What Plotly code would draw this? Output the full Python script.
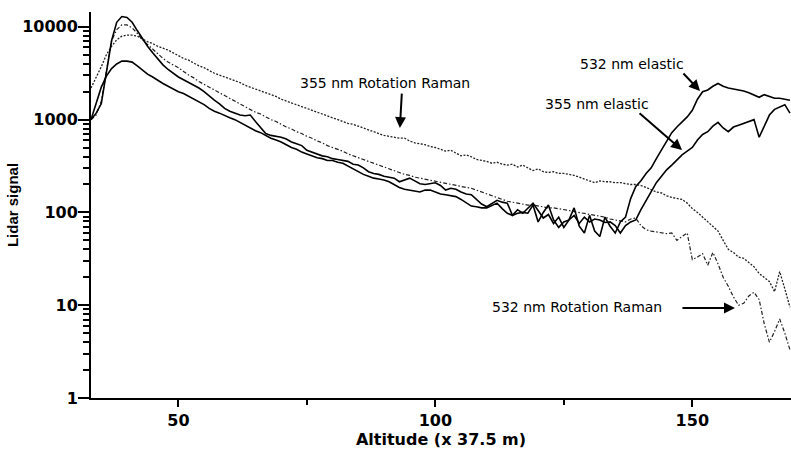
import plotly.graph_objects as go

altitude = list(range(33, 170))

elastic_532 = [
    1000, 1175, 1480, 3160, 7080, 11200, 12900, 12600, 11200, 9120,
    7410, 6170, 5250, 4470, 3890, 3470, 3160, 2880, 2690, 2510,
    2340, 2190, 2000, 1780, 1620, 1480, 1320, 1230, 1175, 1120,
    1100, 1120, 955, 810, 708, 676, 661, 646, 617, 575,
    550, 525, 468, 447, 427, 407, 398, 380, 372, 363,
    355, 331, 324, 302, 275, 263, 257, 245, 240, 234,
    214, 224, 234, 219, 204, 200, 204, 209, 195, 174,
    182, 178, 166, 158, 155, 138, 123, 115, 126, 135,
    129, 126, 93, 98, 100, 98, 120, 79, 100, 120,
    83, 69, 79, 83, 112, 71, 60, 93, 63, 55,
    89, 71, 60, 79, 89, 141, 190, 219, 263, 302,
    380, 468, 575, 724, 832, 933, 1070, 1260, 1660, 2000,
    2090, 2290, 2450, 2290, 2190, 2140, 2090, 2040, 1950, 1860,
    1740, 1860, 1780, 1700, 1700, 1660, 1620,
]

elastic_355 = [
    1000, 1510, 2240, 2950, 3550, 3980, 4270, 4270, 4170, 3800,
    3390, 3090, 2880, 2630, 2450, 2290, 2140, 2000, 1910, 1780,
    1660, 1550, 1450, 1320, 1230, 1175, 1100, 1050, 1000, 933,
    871, 813, 759, 724, 676, 631, 603, 575, 537, 501,
    479, 447, 427, 407, 389, 380, 363, 363, 347, 339,
    316, 295, 275, 257, 245, 234, 229, 224, 214, 200,
    186, 178, 174, 170, 166, 174, 174, 166, 158, 155,
    151, 148, 138, 126, 117, 115, 112, 112, 120, 126,
    110, 98, 93, 107, 98, 112, 126, 105, 87, 95,
    76, 89, 69, 83, 93, 76, 89, 79, 85, 83,
    78, 79, 72, 60, 72, 79, 83, 107, 135, 166,
    209, 245, 288, 324, 372, 417, 457, 501, 603, 692,
    741, 851, 933, 813, 741, 832, 871, 912, 955, 1000,
    646, 851, 1120, 1290, 1380, 1450, 1175,
]

raman_355 = [
    2190, 2820, 3720, 5010, 6170, 7240, 7940, 8130, 8130, 7940,
    7410, 6920, 6610, 6170, 5890, 5620, 5250, 4900, 4570, 4370,
    4070, 3800, 3630, 3390, 3160, 3020, 2880, 2750, 2630, 2510,
    2340, 2240, 2140, 2040, 1950, 1860, 1780, 1660, 1580, 1510,
    1450, 1380, 1320, 1260, 1200, 1150, 1100, 1050, 1000, 955,
    912, 891, 851, 813, 776, 741, 708, 676, 661, 646,
    631, 631, 589, 562, 550, 537, 513, 501, 479, 457,
    468, 437, 407, 417, 398, 372, 363, 355, 339, 347,
    331, 324, 331, 309, 324, 302, 282, 295, 275, 269,
    275, 263, 263, 257, 251, 240, 229, 219, 209, 219,
    214, 214, 209, 209, 204, 200, 200, 195, 186, 174,
    166, 162, 151, 145, 141, 138, 126, 110, 100, 89,
    79, 71, 63, 50, 40, 37, 33, 32, 29, 26,
    22, 20, 18, 14, 23, 15, 9.5,
]

raman_532 = [
    1000, 1120, 1580, 3550, 7080, 9330, 10500, 10500, 9770, 8510,
    7240, 6460, 5750, 5130, 4570, 4170, 3890, 3630, 3310, 3020,
    2820, 2570, 2400, 2240, 2090, 1950, 1820, 1700, 1580, 1480,
    1380, 1290, 1200, 1150, 1070, 1000, 955, 891, 832, 794,
    741, 708, 661, 631, 589, 562, 525, 501, 479, 457,
    427, 407, 389, 372, 355, 339, 324, 309, 295, 282,
    269, 257, 251, 240, 234, 224, 219, 214, 209, 204,
    200, 195, 191, 186, 182, 174, 166, 158, 151, 145,
    138, 132, 129, 126, 123, 120, 120, 117, 115, 112,
    112, 110, 107, 105, 102, 100, 98, 95, 93, 91,
    89, 85, 83, 81, 79, 85, 87, 72, 65, 63,
    62, 60, 59, 60, 50, 55, 60, 31, 33, 36,
    27, 37, 28, 20, 16, 12.3, 10, 10.5, 12.6, 13.8,
    11.5, 6.3, 4, 5.2, 7.1, 5, 3.3,
]

y_tickvals = [1, 10, 100, 1000, 10000]
y_ticktext = ["1", "10", "100", "1000", "10000"]
y_minor = [m * d for d in (1, 10, 100, 1000) for m in range(2, 10)]
x_tickvals = [50, 100, 150]
x_minor = [75, 125]

fig = go.Figure()
fig.add_trace(go.Scatter(x=altitude, y=raman_355, mode="lines", name="355 nm Rotation Raman",
                         line=dict(color="#222222", width=1.3, dash="2px,1.5px")))
fig.add_trace(go.Scatter(x=altitude, y=raman_532, mode="lines", name="532 nm Rotation Raman",
                         line=dict(color="#222222", width=1.2, dash="4px,2px,1.5px,2px")))
fig.add_trace(go.Scatter(x=altitude, y=elastic_355, mode="lines", name="355 nm elastic",
                         line=dict(color="black", width=1.6)))
fig.add_trace(go.Scatter(x=altitude, y=elastic_532, mode="lines", name="532 nm elastic",
                         line=dict(color="black", width=1.6)))

ann_font = dict(family="DejaVu Sans", size=14, color="black")
arrow = dict(showarrow=True, arrowhead=2, arrowsize=1.1, arrowwidth=2, arrowcolor="black",
             standoff=0, startstandoff=0)
annotations = [
    dict(x=90.2, y=3.394, xref="x", yref="y", text="355 nm Rotation Raman", showarrow=False, font=ann_font),
    dict(x=93.1, y=2.909, xref="x", yref="y", text="", ax=2, ay=-36, **arrow),
    dict(x=138.3, y=3.599, xref="x", yref="y", text="532 nm elastic", showarrow=False, font=ann_font),
    dict(x=151.5, y=3.308, xref="x", yref="y", text="", ax=-18, ay=-19, **arrow),
    dict(x=131.4, y=3.168, xref="x", yref="y", text="355 nm elastic", showarrow=False, font=ann_font),
    dict(x=148.0, y=2.672, xref="x", yref="y", text="", ax=-44, ay=-38, **arrow),
    dict(x=127.6, y=0.981, xref="x", yref="y", text="532 nm Rotation Raman", showarrow=False, font=ann_font),
    dict(x=158.3, y=0.970, xref="x", yref="y", text="", ax=-54, ay=0, **arrow),
]

tick_font = dict(family="DejaVu Sans", size=16, color="black", weight="bold")

fig.update_layout(
    width=791, height=455,
    margin=dict(l=91, r=0, t=12, b=57),
    paper_bgcolor="white", plot_bgcolor="white",
    showlegend=False,
    annotations=annotations,
    xaxis=dict(
        range=[33, 169.2], showgrid=False, zeroline=False, automargin=False,
        showline=True, linecolor="black", linewidth=2,
        ticks="outside", ticklen=7, tickwidth=2, tickcolor="black",
        tickvals=x_tickvals, ticktext=[str(v) for v in x_tickvals],
        tickfont=tick_font,
        minor=dict(tickvals=x_minor, ticks="outside", ticklen=5, tickwidth=1.5, tickcolor="black"),
        title=dict(text="Altitude (x 37.5 m)", standoff=3,
                   font=dict(family="DejaVu Sans", size=16, color="black", weight="bold")),
    ),
    yaxis=dict(
        type="log", range=[0, 4.16], showgrid=False, zeroline=False, automargin=False,
        showline=True, linecolor="black", linewidth=2,
        ticks="outside", ticklen=11, tickwidth=2, tickcolor="black",
        tickvals=y_tickvals, ticktext=y_ticktext,
        tickfont=tick_font, ticklabelstandoff=-3,
        minor=dict(tickvals=y_minor, ticks="outside", ticklen=6, tickwidth=1.5, tickcolor="black"),
        title=dict(text="Lidar signal", standoff=0,
                   font=dict(family="Liberation Sans Narrow, Liberation Sans", size=15, color="black", weight="bold")),
    ),
)

fig.write_html("out.html", config={"displayModeBar": False},
               post_script="document.body.style.margin='0';")
